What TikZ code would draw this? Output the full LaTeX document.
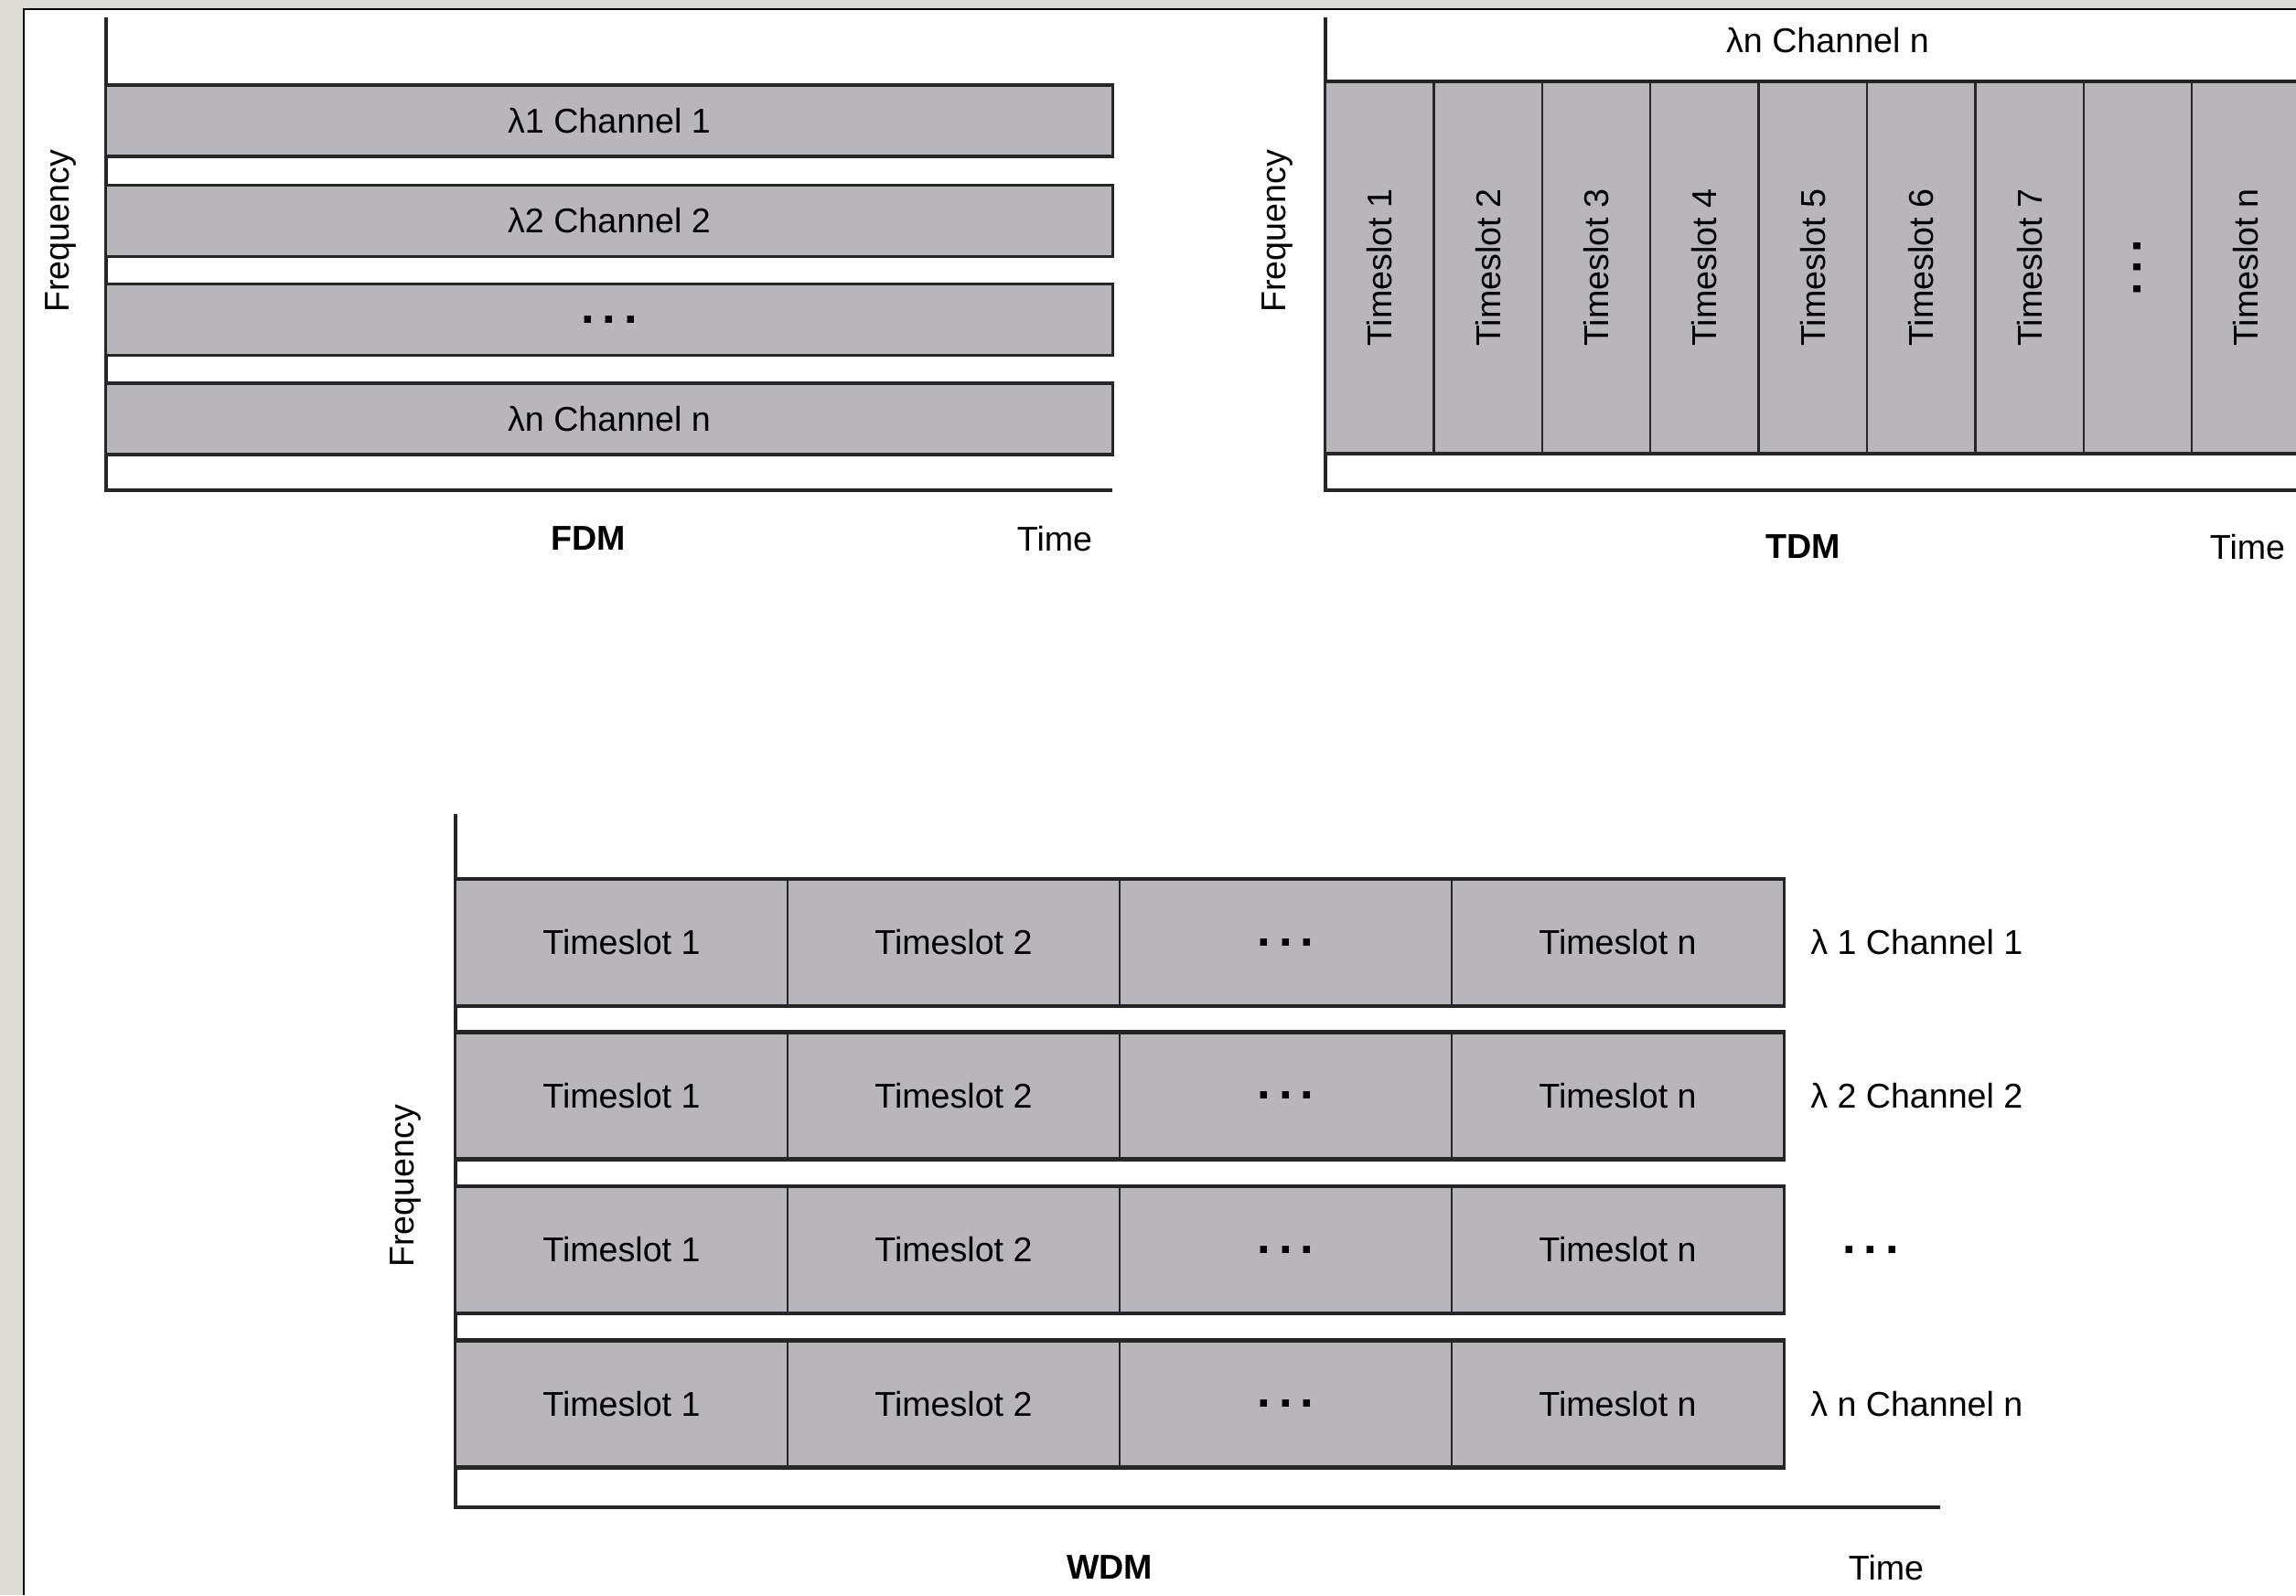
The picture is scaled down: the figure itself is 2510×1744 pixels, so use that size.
\documentclass[tikz,border=0pt]{standalone}
\usepackage{fontspec}
\setmainfont{Liberation Sans}
\usetikzlibrary{positioning}
\definecolor{bandgray}{RGB}{184,182,187}
\definecolor{scanframe}{RGB}{221,219,213}
\newcommand{\bigdots}{{\fontsize{15}{15}\selectfont\bfseries .\,.\,.}}

\begin{document}
\begin{tikzpicture}[
  x=0.01cm, y=-0.01cm,
  font=\fontsize{10.7}{12}\selectfont,
  band/.style={draw=black!85, fill=bandgray, line width=1pt, inner sep=0pt,
               minimum width=11cm, minimum height=0.78cm},
  slotcell/.style={draw=black!85, fill=bandgray, line width=0.7pt, inner sep=0pt,
                   minimum width=1.184cm, minimum height=4.05cm},
  cell/.style={draw=black!85, fill=bandgray, line width=0.8pt, inner sep=0pt,
               minimum width=3.63cm, minimum height=1.37cm},
  edge/.style={line width=1pt, black!85},
  axis/.style={line width=0.9pt, black!85},
  lbl/.style={inner sep=0pt},
  ttl/.style={font=\fontsize{10.7}{12}\selectfont\bfseries}
]
\useasboundingbox (0,0) rectangle (2510,1744);
\clip (0,0) rectangle (2510,1744);

%% ---- page of the scan ----
\fill[scanframe] (0,0) rectangle (2510,1744);
\fill[white] (26,10) rectangle (2510,1744);
\draw[line width=0.6pt] (26,1744) -- (26,10) -- (2510,10);

%% ---- FDM ----
\coordinate (fdmO) at (116,536);
\draw[axis] (116,19) -- (fdmO) -- (1216,536);
\foreach \y/\txt [count=\i] in {132/{λ1 Channel 1}, 241.5/{λ2 Channel 2},
                                349.5/{\bigdots}, 458/{λn Channel n}}
  \node[band] (fdm\i) at (666,\y) {\txt};
\node[rotate=90] (fdmfreq) at (66,253) {Frequency};
\node[ttl] (fdmttl) at (643,589) {FDM};
\node (fdmtime) at (1153,589) {Time};

%% ---- TDM ----
\coordinate (tdmO) at (1449,536);
\draw[axis] (1449,19) -- (tdmO) -- (2515,536);
\foreach \k in {1,...,9}
  \node[slotcell] (ts\k) at ({1449+118.4*(\k-0.5)},292.5) {};
\foreach \k in {1,...,7}
  \node[rotate=90] at (ts\k) {Timeslot \k};
\node[rotate=90] at (ts8) {\bigdots};
\node[rotate=90] at (ts9) {Timeslot n};
\draw[edge] (ts1.north west) -- (ts9.north east)
            (ts1.south west) -- (ts9.south east);
\node (tdmch) at (1998,44) {λn Channel n};
\node[rotate=90] (tdmfreq) at (1396,253) {Frequency};
\node[ttl] (tdmttl) at (1971,598) {TDM};
\node (tdmtime) at (2457,598) {Time};

%% ---- WDM ----
\coordinate (wdmO) at (498,1648);
\draw[axis] (498,890) -- (wdmO) -- (2121,1648);
\foreach \r/\ry in {1/1030.5, 2/1198, 3/1366.5, 4/1535}{
  \foreach \c/\txt in {1/Timeslot 1, 2/Timeslot 2, 3/\bigdots, 4/Timeslot n}
    \node[cell] (w\r\c) at ({498+363*(\c-0.5)},\ry) {\txt};
  \draw[edge] (w\r1.north west) -- (w\r4.north east)
              (w\r1.south west) -- (w\r4.south east);
}
\node[lbl, right=0.27cm of w14] (ch1) {λ 1 Channel 1};
\node[lbl, right=0.27cm of w24] (ch2) {λ 2 Channel 2};
\node[lbl, right=0.62cm of w34] (chd) {\bigdots};
\node[lbl, right=0.27cm of w44] (chn) {λ n Channel n};
\node[rotate=90] (wdmfreq) at (443,1297) {Frequency};
\node[ttl] (wdmttl) at (1213,1714) {WDM};
\node (wdmtime) at (2062,1714) {Time};

\end{tikzpicture}
\end{document}
